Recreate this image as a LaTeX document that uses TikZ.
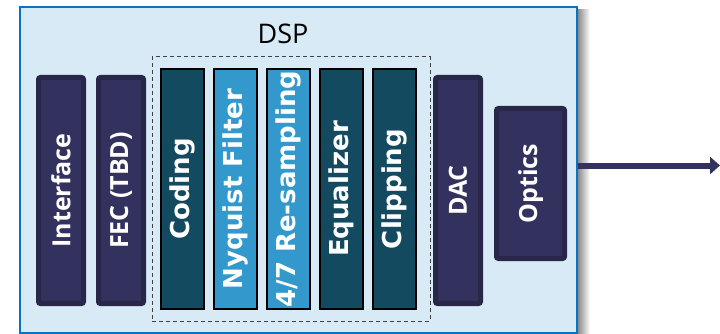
\documentclass[tikz,border=0pt]{standalone}
\usepackage{fontspec}
\setmainfont{Open Sans}
\newfontfamily\labfont{Open Sans}
\newfontfamily\heavyfont{DejaVu Sans}
\usetikzlibrary{arrows.meta}
\definecolor{dkfill}{HTML}{33325F}
\definecolor{dkborder}{HTML}{28274A}
\definecolor{tealbox}{HTML}{134A60}
\definecolor{ltbox}{HTML}{3399CC}
\definecolor{dspfill}{HTML}{D7EAF5}
\definecolor{dspborder}{HTML}{0A72C2}
\tikzset{
  darkbox/.style={draw=dkborder, line width=5pt, fill=dkfill, rounded corners=2pt,
    inner sep=0pt, rotate=90, text=white, font=\labfont\bfseries\fontsize{25}{30}\selectfont},
  modbox/.style={draw=black, line width=2pt, inner sep=0pt, rotate=90,
    minimum width=240pt, minimum height=43pt, text=white,
    font=\heavyfont\bfseries\fontsize{26}{30}\selectfont},
  tealmod/.style={modbox, fill=tealbox},
  bluemod/.style={modbox, fill=ltbox},
}
\begin{document}
\begin{tikzpicture}[x=1pt,y=-1pt]
\useasboundingbox (0,0) rectangle (720,334);
% shadow
\shade[left color=black!45, right color=white] (578,10) rectangle (590,334);
% main DSP box
\node[draw=dspborder, fill=dspfill, line width=2pt, inner sep=0pt,
  minimum width=557pt, minimum height=326pt] (dsp) at (298.25,169.75) {};
\node[font=\fontsize{27}{32}\selectfont] (dsplabel) at (283,34) {DSP};
% dashed group
\node[draw=black!75, line width=1pt, dash pattern=on 4pt off 3pt, inner sep=0pt,
  minimum width=278pt, minimum height=264pt] (group) at (291,189) {};
% outer blocks
\node[darkbox, minimum width=226pt, minimum height=45pt] (iface) at (61,190.5) {Interface};
\node[darkbox, minimum width=226pt, minimum height=45pt] (fec) at (121,190.5) {FEC (TBD)};
\node[darkbox, minimum width=226pt, minimum height=45pt] (dac) at (458,190.5) {DAC};
\node[darkbox, minimum width=150pt, minimum height=68pt] (optics) at (530.5,183.5) {Optics};
% DSP modules
\node[tealmod] (coding) at (182.5,189) {Coding};
\node[bluemod] (nyq) at (235.5,189) {Nyquist Filter};
\node[bluemod] (resamp) at (288.5,189) {4/7 Re-sampling};
\node[tealmod] (eq) at (341.5,189) {Equalizer};
\node[tealmod] (clip) at (394.5,189) {Clipping};
% output arrow
\coordinate (out) at (720,165.5);
\draw[draw=dkfill, line width=6pt, -{Triangle[length=10pt,width=17pt]}]
  (dsp.east |- out) -- (out);
\end{tikzpicture}
\end{document}
